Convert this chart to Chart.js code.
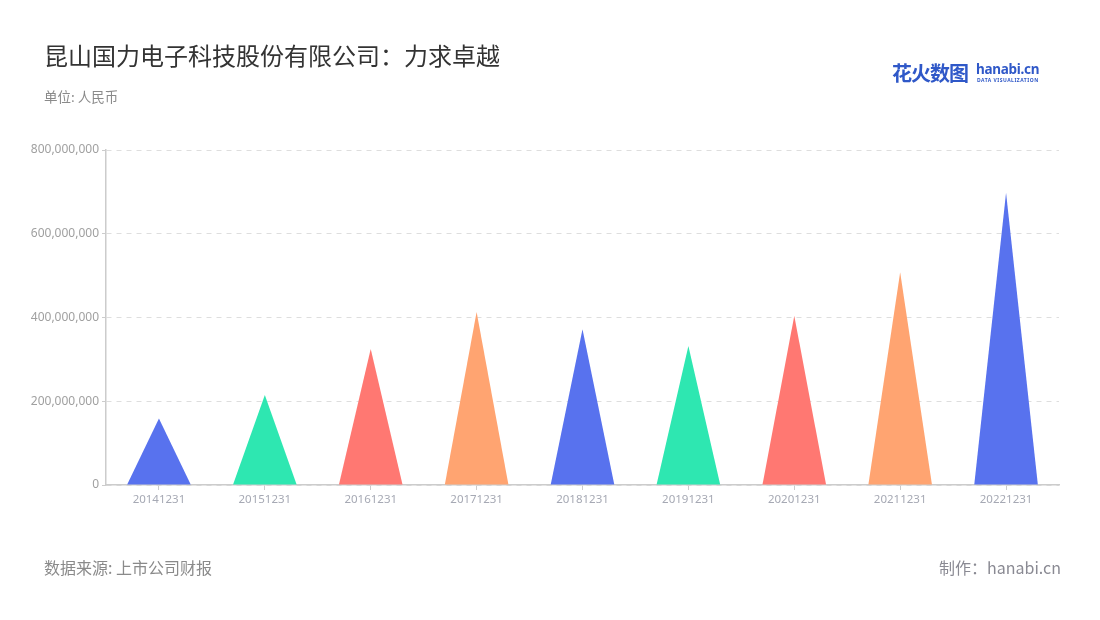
<!DOCTYPE html>
<html>
<head>
<meta charset="utf-8">
<script src="https://cdn.jsdelivr.net/npm/chart.js@4/dist/chart.umd.min.js"></script>
<style>
  html, body { margin: 0; padding: 0; background: #fff; }
  #wrap { position: relative; width: 1100px; height: 620px; overflow: hidden;
          font-family: "Noto Sans CJK SC", "Noto Sans", sans-serif; }
  canvas { position: absolute; left: 0; top: 0; }
  .t { position: absolute; white-space: nowrap; }
  #title { left: 44px; top: 37px; font-size: 24px; color: #333; }
  #unit { left: 44px; top: 86px; font-size: 13.5px; color: #8a8a8a; }
  #src { left: 44px; top: 555px; font-size: 16px; color: #8a8a8a; }
  #made { right: 39px; top: 555px; font-size: 16px; color: #8a8a93; }
  #logo1 { left: 892px; top: 58px; font-size: 20px; font-weight: 700; color: #2f58c8; letter-spacing: -1px; }
  #logo2 { left: 976px; top: 60px; font-size: 13.5px; font-weight: 700; color: #2f58c8; font-family: "Noto Sans", sans-serif; letter-spacing: -0.3px; }
  #logo3 { left: 977px; top: 77px; font-size: 5px; font-weight: 700; color: #2f58c8; font-family: "Noto Sans", sans-serif; letter-spacing: 0.5px; }
</style>
</head>
<body>
<div id="wrap">
  <canvas id="c" width="1100" height="620"></canvas>
  <div class="t" id="title">昆山国力电子科技股份有限公司：力求卓越</div>
  <div class="t" id="unit">单位: 人民币</div>
  <div class="t" id="logo1">花火数图</div>
  <div class="t" id="logo2">hanabi.cn</div>
  <div class="t" id="logo3">DATA VISUALIZATION</div>
  <div class="t" id="src">数据来源: 上市公司财报</div>
  <div class="t" id="made">制作：hanabi.cn</div>
</div>
<script>
const categories = ["20141231","20151231","20161231","20171231","20181231","20191231","20201231","20211231","20221231"];
const values = [159000000, 215000000, 325000000, 413000000, 372000000, 332000000, 404000000, 508000000, 698000000];
const colors = ["#5872ee","#2ee7b1","#ff7872","#ffa471","#5872ee","#2ee7b1","#ff7872","#ffa471","#5872ee"];
const yTicks = [0, 200000000, 400000000, 600000000, 800000000];

const trianglePlugin = {
  id: 'triangles',
  afterDatasetsDraw(chart) {
    const ctx = chart.ctx;
    const meta = chart.getDatasetMeta(0);
    meta.data.forEach((bar, i) => {
      const p = bar.getProps(['x','y','base','width'], true);
      ctx.save();
      ctx.fillStyle = colors[i];
      ctx.beginPath();
      ctx.moveTo(p.x - p.width/2, p.base);
      ctx.lineTo(p.x, p.y);
      ctx.lineTo(p.x + p.width/2, p.base);
      ctx.closePath();
      ctx.fill();
      ctx.restore();
    });
  }
};

new Chart(document.getElementById('c'), {
  type: 'bar',
  data: {
    labels: categories,
    datasets: [{
      data: values,
      backgroundColor: 'rgba(0,0,0,0)',
      borderWidth: 0,
      categoryPercentage: 1,
      barPercentage: 0.6
    }]
  },
  options: {
    responsive: false,
    animation: false,
    layout: { padding: { left: 0, top: 150, right: 41, bottom: 0 } },
    plugins: { legend: { display: false }, tooltip: { enabled: false } },
    scales: {
      x: {
        afterFit(s) { s.height = 135; },
        grid: { offset: false, drawOnChartArea: false, drawTicks: true, tickLength: 5, color: '#cccccc', tickColor: '#cccccc' },
        border: { display: true, color: '#cccccc', width: 1.5 },
        ticks: { color: '#a6a9b4', font: { size: 11.5, family: 'Noto Sans' }, padding: 3, maxRotation: 0 }
      },
      y: {
        min: 0, max: 800000000,
        afterFit(s) { s.width = 106; },
        afterBuildTicks(s) { s.ticks = yTicks.map(v => ({ value: v })); },
        grid: { color: '#dedede', tickColor: '#cccccc', tickLength: 4, lineWidth: 1 },
        border: { display: true, color: '#cccccc', width: 1.5, dash: [5, 5] },
        ticks: { color: '#a0a0a0', font: { size: 12, family: 'Noto Sans' }, padding: 3,
                 callback: v => v.toLocaleString('en-US') }
      }
    }
  },
  plugins: [trianglePlugin]
});
</script>
</body>
</html>
